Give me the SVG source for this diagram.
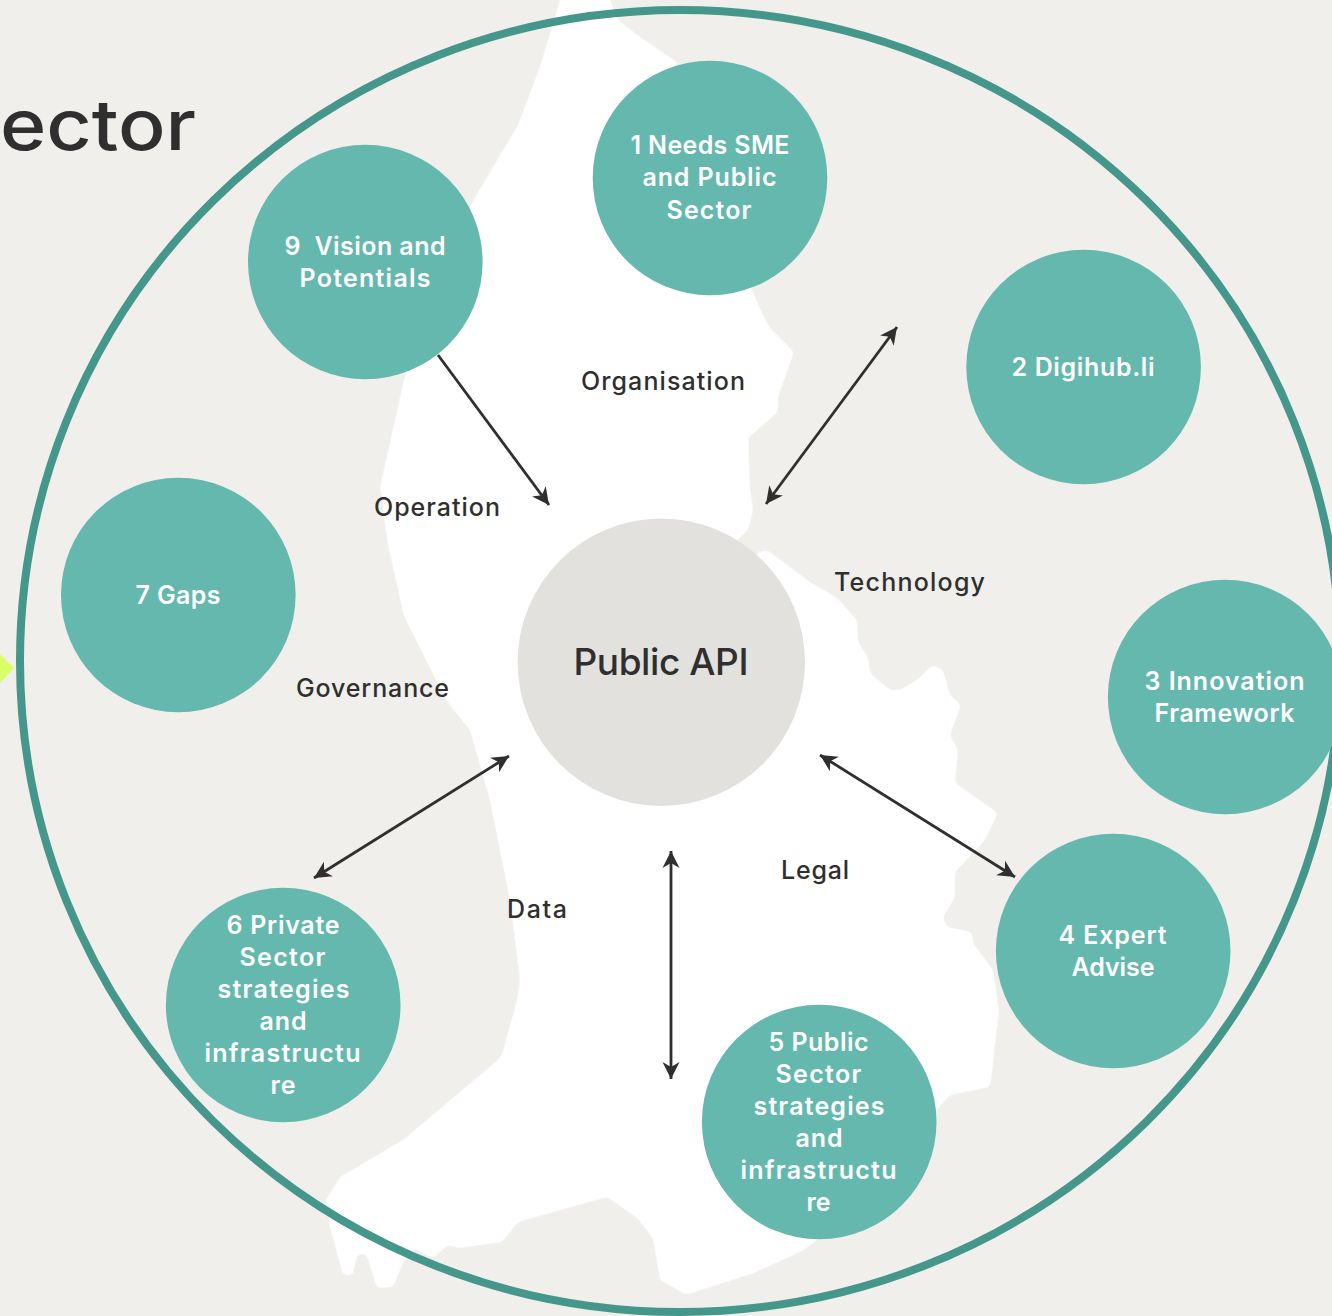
<svg xmlns="http://www.w3.org/2000/svg" width="1332" height="1316" viewBox="0 0 1332 1316">
<style>
text{font-family:"Inter","Liberation Sans",sans-serif;text-anchor:middle;white-space:pre}
.n circle{fill:#64b8ad}
.n text{fill:#fff;font-size:25px;font-weight:600}
.l{fill:#2f2f2f;font-size:25px;font-weight:500}
.c line{stroke:#2f2f2f;stroke-width:2.8;fill:none}
.a{marker-end:url(#ah)}
.b{marker-start:url(#ah);marker-end:url(#ah)}
</style>
<defs>
<marker id="ah" markerUnits="userSpaceOnUse" markerWidth="24" markerHeight="24" viewBox="-20 -12 24 24" refX="0" refY="0" orient="auto-start-reverse">
<path d="M0 0L-17 -8.500L-12 0L-17 8.500Z" fill="#2f2f2f"/>
</marker>
<filter id="soft" filterUnits="userSpaceOnUse" x="-20" y="-40" width="1372" height="1396">
<feGaussianBlur stdDeviation="2.6"/>
<feComponentTransfer><feFuncA type="linear" slope="4" intercept="-1.5"/></feComponentTransfer>
</filter>
</defs>
<rect width="1332" height="1316" fill="#f0efeb"/>
<path id="map" fill="#fff" filter="url(#soft)" d="M566 -20L560 0L540 67L518 125L473 201L440 270L404 380L380 487L388 545L404 616L446 700L470 730L490 800L510 900L520 980L517 1000L502 1055L498 1060L403 1140L340 1177L326 1200L330 1227L343 1275L353 1275L357 1255L366 1253L377 1288L393 1287L403 1263L413 1248L433 1258L448 1245L460 1248L502 1242L518 1222L607 1197L623 1208L637 1218L653 1238L660 1280L683 1293L685 1295L754 1273L802 1251L900 1180L937 1110L950 1095L990 1087L993 1063L999 1010L993 970L973 943L972 932L947 927L943 917L955 897L955 872L985 840L998 813L955 783L958 750L950 735L961 705L950 695L943 670L933 665L917 680L900 690L890 690L870 673L868 657L858 642L857 620L837 598L810 582L767 550L757 553L750 562L733 550L737 540L748 530L753 510L750 487L748 438L778 412L778 397L785 377L794 352L770 328L762 313L752 290L740 230L677 62L640 37L618 20L610 0L606 -20Z"/>
<ellipse id="ring" cx="680" cy="661" rx="660" ry="651" fill="none" stroke="#45968b" stroke-width="8"/>
<path id="diamond" d="M-12 668L0 654L14 668L0 683Z" fill="#d9ff66"/>
<text x="98" y="150" lengthAdjust="spacingAndGlyphs" style="font-size:70px;font-weight:500;fill:#2f2f2f" textLength="196">ector</text>
<g id="connectors" class="c">
<line class="a" x1="438" y1="355" x2="549" y2="505"/>
<line class="b" x1="897" y1="327" x2="766" y2="504"/>
<line class="b" x1="509" y1="756" x2="314" y2="878"/>
<line class="b" x1="820" y1="755" x2="1015" y2="877"/>
<line class="b" x1="671" y1="851" x2="671" y2="1079"/>
</g>
<g id="hub"><circle cx="661.300" cy="662.300" r="143.700" fill="#e2e1dd"/><text x="661" y="675" style="font-size:37px;font-weight:500;fill:#2f2f2f" textLength="175">Public API</text></g>
<g id="node1" class="n"><circle cx="710" cy="178" r="117.300"/><text x="710" y="154" textLength="159">1 Needs SME</text><text x="709.500" y="186" textLength="134">and Public</text><text x="709" y="219" textLength="85">Sector</text></g>
<g id="node2" class="n"><circle cx="1083.600" cy="367" r="117.300"/><text x="1083" y="376" textLength="143">2 Digihub.li</text></g>
<g id="node3" class="n"><circle cx="1225.200" cy="697" r="117.300"/><text x="1224.500" y="690" textLength="160">3 Innovation</text><text x="1224.500" y="722" textLength="140">Framework</text></g>
<g id="node4" class="n"><circle cx="1113.200" cy="951" r="117.300"/><text x="1112.500" y="944" textLength="108">4 Expert</text><text x="1113" y="976" textLength="83">Advise</text></g>
<g id="node5" class="n"><circle cx="819.200" cy="1122" r="117.300"/><text x="818.500" y="1051" textLength="100">5 Public</text><text x="818.500" y="1083" textLength="86">Sector</text><text x="819" y="1115" textLength="131">strategies</text><text x="819" y="1147" textLength="47">and</text><text x="818.500" y="1179" textLength="156">infrastructu</text><text x="818.500" y="1211" textLength="24">re</text></g>
<g id="node6" class="n"><circle cx="283.200" cy="1005" r="117.300"/><text x="283" y="934" textLength="113">6 Private</text><text x="282.500" y="966" textLength="86">Sector</text><text x="283.500" y="998" textLength="132">strategies</text><text x="283" y="1030" textLength="47">and</text><text x="282.500" y="1062" textLength="156">infrastructu</text><text x="283" y="1094" textLength="25">re</text></g>
<g id="node7" class="n"><circle cx="178.300" cy="595" r="117.300"/><text x="178" y="604" textLength="85">7 Gaps</text></g>
<g id="node9" class="n"><circle cx="365.300" cy="262" r="117.300"/><text x="365" y="255" textLength="161">9  Vision and</text><text x="365" y="287" textLength="131">Potentials</text></g>
<g id="labels">
<text class="l" x="663" y="390" textLength="164">Organisation</text>
<text class="l" x="437" y="516" textLength="126">Operation</text>
<text class="l" x="909.500" y="591" textLength="151">Technology</text>
<text class="l" x="372.500" y="697" textLength="153">Governance</text>
<text class="l" x="815" y="879" textLength="68">Legal</text>
<text class="l" x="537" y="918" textLength="60">Data</text>
</g>
</svg>
